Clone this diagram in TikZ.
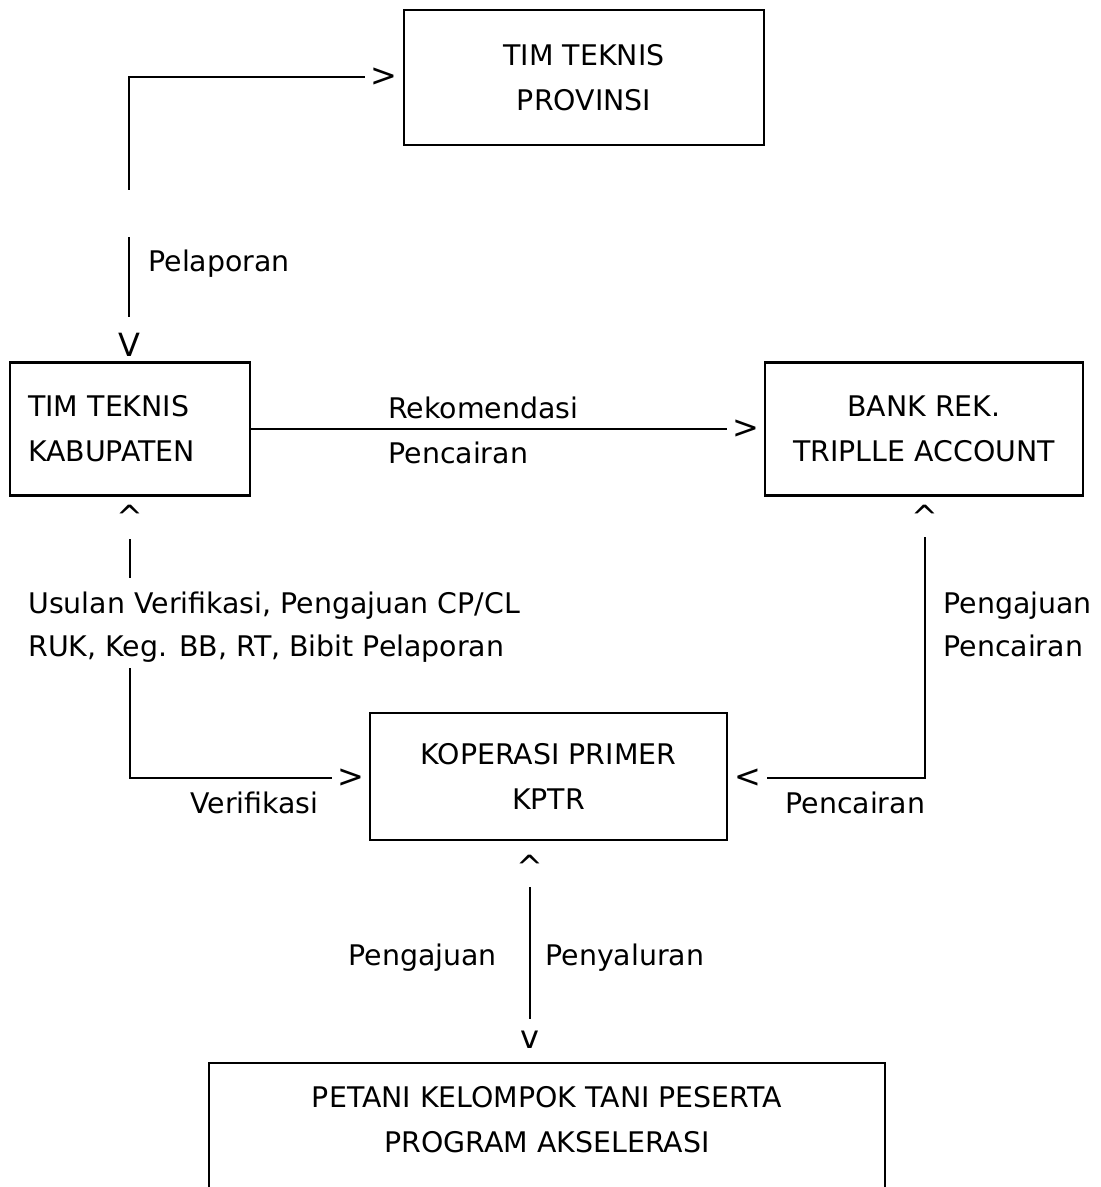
\documentclass[tikz,border=0pt]{standalone}
\usepackage{fontspec}
\setmainfont{DejaVu Sans}
\begin{document}
\begin{tikzpicture}[x=0.5pt,y=-0.5pt,
  every node/.style={font=\fontsize{14.2}{22.5}\selectfont},
  box/.style={draw, line width=1.2pt, inner sep=0pt, align=center},
  lbl/.style={anchor=base west, inner sep=0pt},
  glyph/.style={inner xsep=2.5pt, inner ysep=0pt, font=\fontsize{16}{20}\selectfont},
  conn/.style={line width=1.2pt}]
\useasboundingbox (0,0) rectangle (1100,1187);
\clip (0,0) rectangle (1100,1187);
\fill[white] (0,0) rectangle (1100,1187);

% boxes
\node[box, minimum width=180pt, minimum height=67.5pt] (prov) at (584,77.5) {TIM TEKNIS\\PROVINSI};
\node[box, minimum height=66.5pt, text width=102pt, inner xsep=9pt, align=left] (kab) at (130,429) {TIM TEKNIS\\KABUPATEN};
\node[box, minimum width=159pt, minimum height=66.5pt] (bank) at (924,429) {BANK REK.\\TRIPLLE ACCOUNT};
\node[box, minimum width=178.5pt, minimum height=63.5pt] (kop) at (548.5,776.5) {KOPERASI PRIMER\\KPTR};
\node[align=center, inner sep=0pt] (pet) at (547,1120) {PETANI KELOMPOK TANI PESERTA\\PROGRAM AKSELERASI};
\draw[line width=1.2pt] (209,1210) |- (885,1063) -- (885,1210);

% arrow glyphs
\node[glyph] (g1) at (384,77) {>};
\node[glyph] (g2) at (129,345) {V};
\node[glyph] (g3) at (746,429) {>};
\node[glyph] (g4) at (130,517) {\^{}};
\node[glyph] (g5) at (351,778) {>};
\node[glyph] (g6) at (925,517) {\^{}};
\node[glyph] (g7) at (748,778) {<};
\node[glyph] (g8) at (530,867) {\^{}};
\node[glyph] (g9) at (530,1040) {v};

% connectors
\coordinate (p1) at (129,237);
\coordinate (p2) at (129,190);
\draw[conn] ([yshift=8pt]g2.north) -- (p1);
\draw[conn] (p2) |- (g1.west);
\draw[conn] (kab.east) -- (g3.west);
\coordinate (q2) at (130,578);
\coordinate (q3) at (130,668);
\draw[conn] ([yshift=-5pt]g4.south) -- (q2);
\draw[conn] (q3) |- (g5.west);
\draw[conn] ([yshift=-4pt]g6.south) |- (g7.east);
\draw[conn] ([yshift=-4pt]g8.south) -- ([yshift=6pt]g9.north);

% labels
\node[lbl] (l1) at (148,272) {Pelaporan};
\node[lbl] (l2) at (388,418) {Rekomendasi};
\node[lbl] (l3) at (388,463) {Pencairan};
\node[lbl] (l4) at (28,613) {Usulan Verifikasi, Pengajuan CP/CL};
\node[lbl] (l5) at (28,656) {RUK, Keg. BB, RT, Bibit Pelaporan};
\node[lbl] (l6) at (190,813) {Verifikasi};
\node[lbl] (l7) at (943,613) {Pengajuan};
\node[lbl] (l8) at (943,656) {Pencairan};
\node[lbl] (l9) at (785,813) {Pencairan};
\node[lbl] (l10) at (348,965) {Pengajuan};
\node[lbl] (l11) at (545,965) {Penyaluran};
\end{tikzpicture}
\end{document}
